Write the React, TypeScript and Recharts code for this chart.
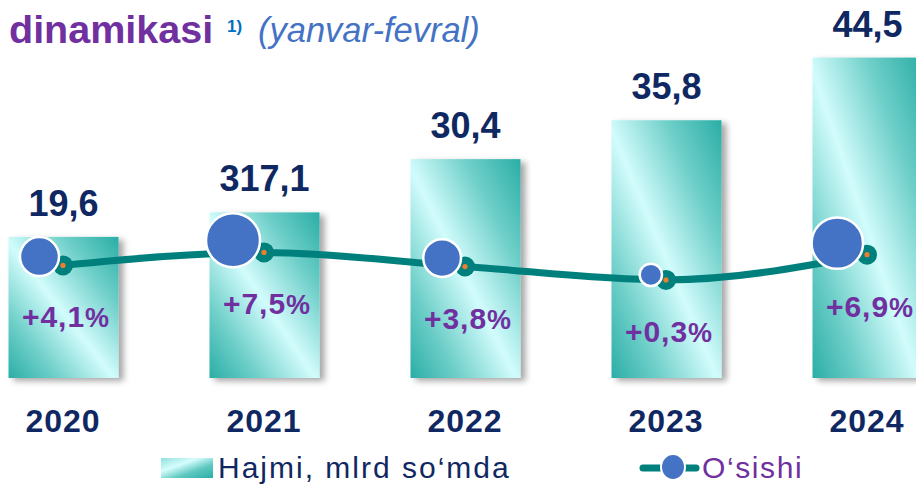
import { ComposedChart, Bar, Line, XAxis, YAxis, LabelList, Legend } from 'recharts';

const years = ['2020', '2021', '2022', '2023', '2024'];
const volume = [19.6, 23.0, 30.4, 35.8, 44.5];
const volumeLabels = ['19,6', '317,1', '30,4', '35,8', '44,5'];
const growth = [4.1, 7.5, 3.8, 0.3, 6.9];
const growthLabels = ['+4,1', '+7,5', '+3,8', '+0,3', '+6,9'];

const data = years.map((year, i) => ({
  i,
  year,
  volume: volume[i],
  volumeLabel: volumeLabels[i],
  growth: growth[i],
  growthLabel: growthLabels[i],
}));

const FONT = "Arial, 'Liberation Sans', sans-serif";
const NAVY = '#0f2862';
const PURPLE = '#7030a0';
const TEAL = '#00807c';

const BarShape = (props: any) => {
  const { x, y, width, height } = props;
  if (!height) return null;
  return <rect x={x} y={y} width={width} height={height} fill="url(#barGrad)" filter="url(#barShadow)" />;
};

const GrowthDot = (props: any) => {
  const { cx, cy, value, index } = props;
  const r = 10.5 + value * 2.2;
  return (
    <g key={`dot-${index}`}>
      <circle cx={cx} cy={cy} r={10} fill={TEAL} />
      <circle cx={cx} cy={cy} r={2.6} fill="#ed7d31" />
      <circle cx={cx - r - 4} cy={cy - r * 0.45} r={r} fill="#4472c4" stroke="#fff" strokeWidth={2.5} />
    </g>
  );
};

const VolumeLabel = (props: any) => {
  const { x, y, width, index } = props;
  return (
    <text x={x + width / 2} y={y - 21} textAnchor="middle" fill={NAVY} fontSize={36} fontWeight="bold" fontFamily={FONT}>
      {volumeLabels[index]}
    </text>
  );
};

const GrowthLabel = (props: any) => {
  const { x, y, index } = props;
  return (
    <text x={x + 3} y={y + 62} textAnchor="middle" fill={PURPLE} fontSize={30} fontWeight="bold" fontFamily={FONT} letterSpacing={1}>
      {growthLabels[index]}
      <tspan fontSize={27}>%</tspan>
    </text>
  );
};

const YearTick = (props: any) => {
  const { x, y, payload } = props;
  return (
    <text x={x} y={y + 54} textAnchor="middle" fill={NAVY} fontSize={32} fontWeight="bold" fontFamily={FONT} letterSpacing={1}>
      {years[payload.value]}
    </text>
  );
};

const LegendContent = () => (
  <div style={{ position: 'relative', width: 916, height: 36, fontFamily: FONT }}>
    <div
      style={{
        position: 'absolute',
        left: 161,
        top: 10,
        width: 52,
        height: 20,
        background: 'linear-gradient(160deg, #8fe0dc 0%, #d6fdfd 35%, #5fc8c1 65%, #2aaea6 100%)',
      }}
    />
    <span
      style={{
        position: 'absolute',
        left: 218,
        top: 5,
        fontSize: 30,
        lineHeight: '30px',
        letterSpacing: 2,
        color: NAVY,
        whiteSpace: 'nowrap',
      }}
    >
      Hajmi, mlrd so‘mda
    </span>
    <svg style={{ position: 'absolute', left: 630, top: 4 }} width={74} height={30}>
      <line x1={13} y1={16} x2={66} y2={16} stroke={TEAL} strokeWidth={7} strokeLinecap="round" />
      <ellipse cx={43} cy={15} rx={12} ry={13} fill="#4472c4" stroke="#fff" strokeWidth={2} />
    </svg>
    <span
      style={{
        position: 'absolute',
        left: 702,
        top: 5,
        fontSize: 30,
        lineHeight: '30px',
        letterSpacing: 1.6,
        color: PURPLE,
        whiteSpace: 'nowrap',
      }}
    >
      O‘sishi
    </span>
  </div>
);

export default function App() {
  return (
    <div style={{ position: 'absolute', left: 0, top: 0, width: 916, height: 484, background: '#fff', overflow: 'hidden' }}>
      <ComposedChart width={916} height={484} data={data} margin={{ top: 18, right: 49, left: 63, bottom: 0 }}>
        <defs>
          <linearGradient id="barGrad" x1="1" y1="0" x2="0" y2="1">
            <stop offset="0%" stopColor="#2aaea6" />
            <stop offset="25%" stopColor="#6fcfc9" />
            <stop offset="52%" stopColor="#d2fcfc" />
            <stop offset="78%" stopColor="#6fcfc9" />
            <stop offset="100%" stopColor="#2aaea6" />
          </linearGradient>
          <filter id="barShadow" x="-20%" y="-20%" width="150%" height="150%">
            <feDropShadow dx={5} dy={3} stdDeviation={3} floodColor="#000" floodOpacity={0.35} />
          </filter>
        </defs>
        <XAxis
          dataKey="i"
          type="number"
          domain={[0, 4]}
          ticks={[0, 1, 2, 3, 4]}
          height={70}
          axisLine={false}
          tickLine={false}
          tickSize={0}
          tickMargin={0}
          tick={<YearTick />}
          interval={0}
        />
        <YAxis yAxisId="v" domain={[0, 50]} hide />
        <YAxis yAxisId="g" orientation="right" domain={[-25.4, 68.9]} hide />
        <Legend verticalAlign="bottom" align="left" wrapperStyle={{ left: 0, width: 916, height: 36 }} content={<LegendContent />} />
        <Bar yAxisId="v" dataKey="volume" barSize={110} shape={<BarShape />} isAnimationActive={false}>
          <LabelList dataKey="volumeLabel" content={<VolumeLabel />} />
        </Bar>
        <Line
          yAxisId="g"
          dataKey="growth"
          type="monotone"
          stroke={TEAL}
          strokeWidth={7}
          dot={GrowthDot}
          activeDot={false}
          isAnimationActive={false}
        >
          <LabelList dataKey="growthLabel" content={<GrowthLabel />} />
        </Line>
      </ComposedChart>
      <svg style={{ position: 'absolute', left: 0, top: 0 }} width={500} height={50}>
        <text x={9} y={43} fill={PURPLE} fontSize={39.5} fontWeight="bold" fontFamily={FONT}>
          dinamikasi
        </text>
        <text x={227} y={32} fill="#0070c0" fontSize={17} fontWeight="bold" fontFamily={FONT}>
          1)
        </text>
        <text x={258} y={42} fill="#4472c4" fontSize={34.5} fontStyle="italic" fontFamily={FONT}>
          (yanvar-fevral)
        </text>
      </svg>
    </div>
  );
}
